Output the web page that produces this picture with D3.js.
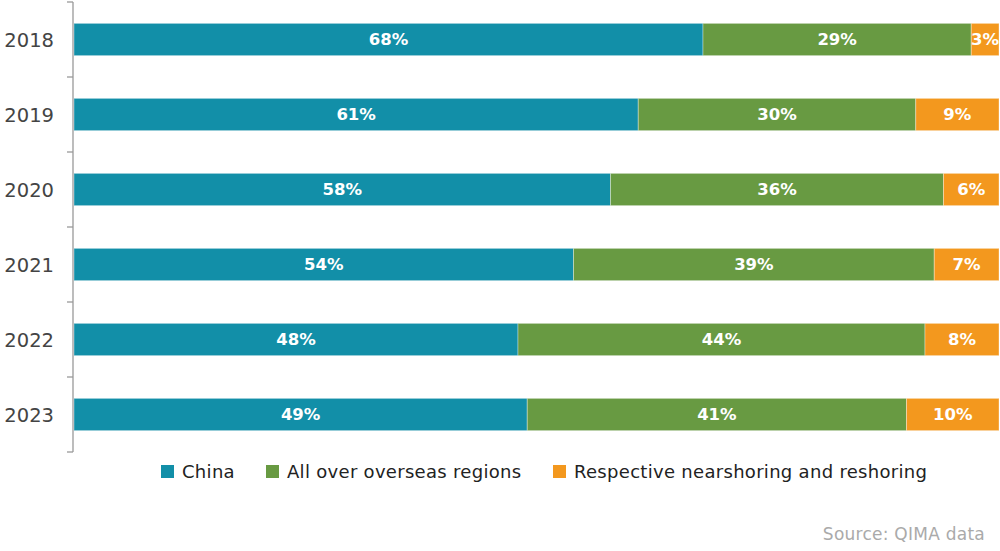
<!DOCTYPE html>
<html><head><meta charset="utf-8">
<script src="https://cdn.jsdelivr.net/npm/d3@7"></script>
<style>body{margin:0;background:#fff}svg{display:block}</style>
</head><body>
<svg id="c" width="1000" height="551"></svg>
<script>
const years = ["2018","2019","2020","2021","2022","2023"];
const seriesNames = ["China","All over overseas regions","Respective nearshoring and reshoring"];
const china = [68,61,58,54,48,49];
const overseas = [29,30,36,39,44,41];
const nearshoring = [3,9,6,7,8,10];
const colors = ["#128fa8","#689a42","#f3981e"];
const FONT = "'DejaVu Sans', sans-serif";

const svg = d3.select("#c");
const x = d3.scaleLinear().domain([0,100]).range([74,999]);
const y = d3.scaleBand().domain(years).range([2,452]).paddingInner(0.57).paddingOuter(0.285);

const stackData = years.map((yr,i)=>({year:yr, s0:china[i], s1:overseas[i], s2:nearshoring[i]}));
const stack = d3.stack().keys(["s0","s1","s2"])(stackData);

const g = svg.append("g");
stack.forEach((layer,li)=>{
  const lg = g.append("g").attr("fill",colors[li]);
  lg.selectAll("rect").data(layer).join("rect")
    .attr("x",d=>x(d[0])).attr("width",d=>x(d[1])-x(d[0]))
    .attr("y",d=>y(d.data.year)).attr("height",y.bandwidth())
    .attr("stroke","#ffffff").attr("stroke-opacity",0.35).attr("stroke-width",1);
  lg.selectAll("text").data(layer).join("text")
    .attr("x",d=>(x(d[0])+x(d[1]))/2)
    .attr("y",d=>y(d.data.year)+y.bandwidth()/2)
    .attr("dy","0.36em").attr("text-anchor","middle")
    .attr("fill","#fff").attr("font-family",FONT)
    .attr("font-weight","bold").attr("font-size",16.5)
    .text(d=>(d[1]-d[0])+"%");
});

// axis
const axisG = svg.append("g").attr("stroke","#999").attr("stroke-width",1.3);
axisG.append("line").attr("x1",73).attr("x2",73).attr("y1",y.range()[0]).attr("y2",y.range()[1]);
const tickYs = d3.range(years.length+1).map(i=>y.range()[0]+i*y.step());
axisG.selectAll("line.t").data(tickYs).join("line").attr("class","t")
  .attr("x1",67).attr("x2",73).attr("y1",d=>d).attr("y2",d=>d);

svg.append("g").selectAll("text").data(years).join("text")
  .attr("x",54).attr("y",d=>y(d)+y.bandwidth()/2).attr("dy","0.36em")
  .attr("text-anchor","end").attr("fill","#444")
  .attr("font-family",FONT).attr("font-size",19.5)
  .text(d=>d);

// legend
const legX = [161,266,553];
const leg = svg.append("g");
seriesNames.forEach((n,i)=>{
  leg.append("rect").attr("x",legX[i]).attr("y",465).attr("width",13).attr("height",13).attr("fill",colors[i]);
  leg.append("text").attr("x",legX[i]+21).attr("y",472).attr("dy","0.36em")
    .attr("fill","#222").attr("font-family",FONT).attr("font-size",18)
    .attr("letter-spacing",0.3).text(n);
});
svg.append("text").attr("x",985).attr("y",540).attr("text-anchor","end")
  .attr("fill","#aaa").attr("font-family",FONT).attr("font-size",17)
  .attr("letter-spacing",0.25)
  .text("Source: QIMA data");
</script>
</body></html>
